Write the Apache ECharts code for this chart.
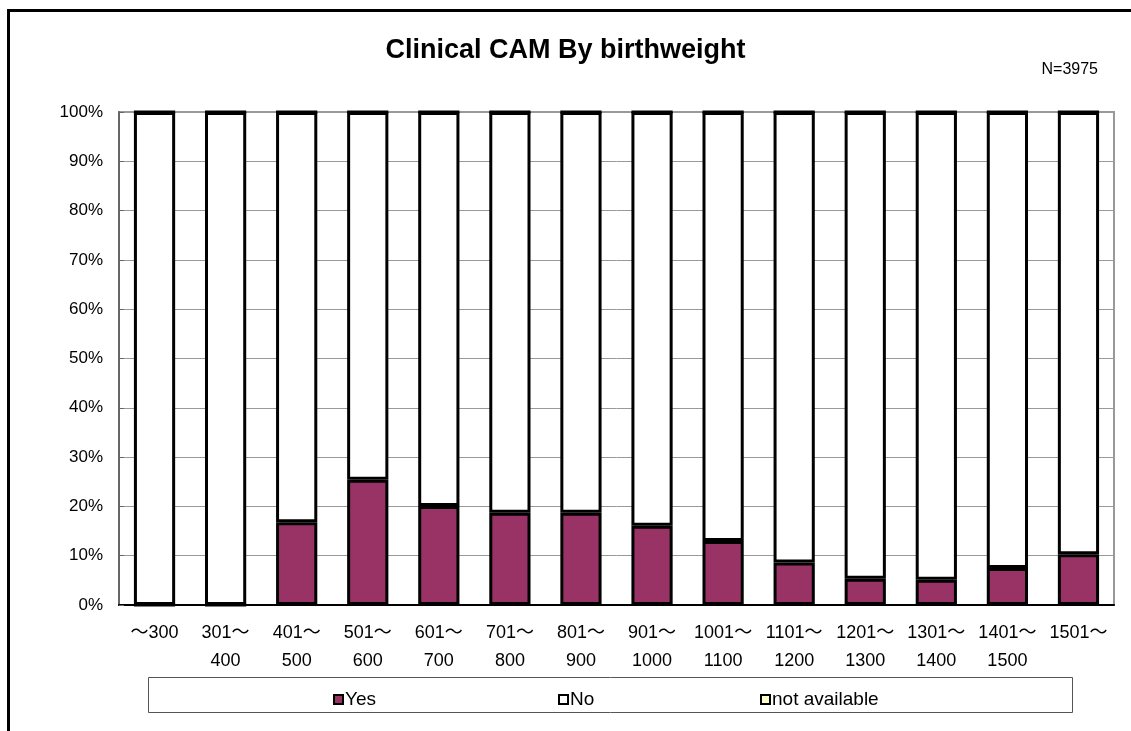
<!DOCTYPE html>
<html>
<head>
<meta charset="utf-8">
<script src="https://cdn.jsdelivr.net/npm/echarts@6/dist/echarts.min.js"></script>
<style>
  html, body { margin: 0; padding: 0; background: #fff; }
  #main { width: 1131px; height: 731px; }
</style>
</head>
<body>
<div id="main"></div>
<script>
// birthweight groups (g)
const categories = [
  "～300", "301～\n400", "401～\n500", "501～\n600", "601～\n700",
  "701～\n800", "801～\n900", "901～\n1000", "1001～\n1100", "1101～\n1200",
  "1201～\n1300", "1301～\n1400", "1401～\n1500", "1501～",
];
// percentages
const yesValues = [0, 0, 16.8, 25.4, 20.1, 18.7, 18.7, 16.1, 13.0, 8.6, 5.3, 5.1, 7.5, 10.3];
const noValues = [100, 100, 83.2, 74.6, 79.9, 81.3, 81.3, 83.9, 87.0, 91.4, 94.7, 94.9, 92.5, 89.7];
const naValues = [0, 0, 0, 0, 0, 0, 0, 0, 0, 0, 0, 0, 0, 0];
const seriesNames = ["Yes", "No", "not available"];
const seriesColors = ["#993366", "#ffffff", "#ffffcc"];

const font = "'Liberation Sans', 'Noto Sans CJK JP', sans-serif";

var chartDom = document.getElementById("main");
var myChart = echarts.init(chartDom);

var seriesData = [yesValues, noValues, naValues];
var series = seriesNames.map((name, i) => ({
  name: name,
  type: "bar",
  stack: "total",
  barWidth: "58%",
  data: seriesData[i],
  itemStyle: {
    color: seriesColors[i],
    borderColor: "#000",
    borderWidth: 3,
  },
  animation: false,
}));

// one legend per item so the spacing can follow the picture
var legendLeft = [328, 553, 755];
var legends = seriesNames.map((name, i) => ({
  data: [name],
  left: legendLeft[i],
  top: 685,
  itemWidth: 9,
  itemHeight: 9,
  icon: "rect",
  itemStyle: { borderWidth: 2 },
  textStyle: { fontFamily: font, fontSize: 19, color: "#000", padding: [0, 0, 0, -3] },
  z: 10,
}));

var option = {
  backgroundColor: "#fff",
  textStyle: { fontFamily: font },
  title: {
    text: "Clinical CAM By birthweight",
    left: "center",
    top: 32,
    textStyle: {
      fontFamily: font,
      fontSize: 27,
      fontWeight: "bold",
      color: "#000",
    },
  },
  graphic: [
    {
      type: "rect",
      shape: { x: 8.5, y: 10.5, width: 1200, height: 800 },
      style: { fill: null, stroke: "#000", lineWidth: 3 },
      silent: true,
    },
    {
      type: "rect",
      shape: { x: 148.5, y: 677.5, width: 924, height: 35 },
      style: { fill: "#fff", stroke: "#555", lineWidth: 1 },
      silent: true,
      z: 0,
    },
    {
      type: "text",
      right: 33,
      top: 62,
      style: {
        text: "N=3975",
        fontFamily: font,
        fontSize: 16,
        fill: "#000",
      },
    },
  ],
  legend: legends,
  grid: {
    left: 119,
    right: 17,
    top: 112,
    bottom: 126,
    show: true,
    borderColor: "#999",
    borderWidth: 2,
  },
  xAxis: {
    type: "category",
    data: categories,
    axisLine: { lineStyle: { color: "#000", width: 2 } },
    axisTick: { inside: true, length: 5, lineStyle: { color: "#555" } },
    axisLabel: {
      interval: 0,
      fontFamily: font,
      fontSize: 18,
      color: "#000",
      lineHeight: 28,
      margin: 14,
    },
  },
  yAxis: {
    type: "value",
    min: 0,
    max: 100,
    interval: 10,
    axisLine: { show: true, lineStyle: { color: "#666", width: 2 } },
    axisTick: { show: true, inside: true, length: 5, lineStyle: { color: "#666" } },
    axisLabel: {
      formatter: "{value}%",
      fontFamily: font,
      fontSize: 17,
      color: "#000",
      margin: 16,
    },
    splitLine: { lineStyle: { color: "#999", width: 1 } },
  },
  series: series,
};

option && myChart.setOption(option);
</script>
</body>
</html>
